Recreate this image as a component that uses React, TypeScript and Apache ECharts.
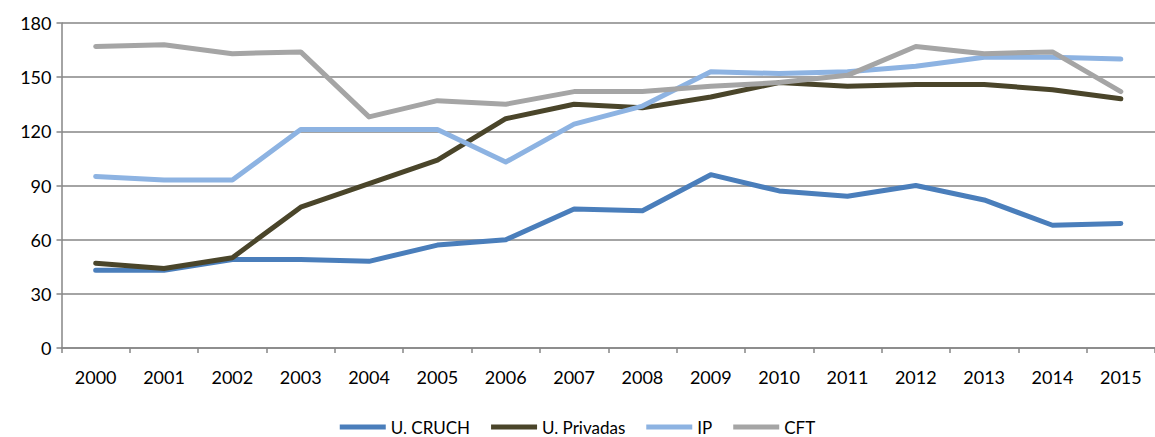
import React, { useEffect, useRef } from "react";
import * as echarts from "echarts";

const years = ["2000","2001","2002","2003","2004","2005","2006","2007","2008","2009","2010","2011","2012","2013","2014","2015"];
const cruch = [43, 43, 49, 49, 48, 57, 60, 77, 76, 96, 87, 84, 90, 82, 68, 69];
const privadas = [47, 44, 50, 78, 91, 104, 127, 135, 133, 139, 147, 145, 146, 146, 143, 138];
const ip = [95, 93, 93, 121, 121, 121, 103, 124, 134, 153, 152, 153, 156, 161, 161, 160];
const cft = [167, 168, 163, 164, 128, 137, 135, 142, 142, 145, 147, 151, 167, 163, 164, 142];

const seriesNames = ["U. CRUCH", "U. Privadas", "IP", "CFT"];
const colors = ["#4a7ebb", "#4a452a", "#8db3e2", "#a5a5a5"];

export default function App() {
  const ref = useRef<HTMLDivElement>(null);
  useEffect(() => {
    if (!ref.current) return;
    const chart = echarts.init(ref.current, null, { renderer: "svg" });
    const datas = [cruch, privadas, ip, cft];
    chart.setOption({
      animation: false,
      textStyle: { fontFamily: "Lato, 'Open Sans', sans-serif" },
      grid: { left: 61.5, right: -12, top: 23, bottom: 89 },
      legend: {
        top: 418,
        left: "center",
        padding: 0,
        itemWidth: 46,
        itemHeight: 5,
        itemGap: 21,
        icon: "rect",
        textStyle: { fontSize: 17, color: "#000", fontFamily: "Lato, sans-serif", lineHeight: 18 },
        data: seriesNames,
      },
      xAxis: {
        type: "category",
        data: years,
        boundaryGap: true,
        axisLine: { lineStyle: { color: "#868686", width: 1.5 } },
        axisTick: { show: true, length: 5, lineStyle: { color: "#868686", width: 1.5 } },
        axisLabel: { color: "#000", fontSize: 18, margin: 20 },
      },
      yAxis: {
        type: "value",
        min: 0,
        max: 180,
        interval: 30,
        axisLine: { show: true, lineStyle: { color: "#868686", width: 1.5 } },
        axisTick: { show: true, length: 5, lineStyle: { color: "#868686", width: 1.5 } },
        axisLabel: { color: "#000", fontSize: 18, margin: 10 },
        splitLine: { lineStyle: { color: "#868686", width: 1.5 } },
      },
      series: datas.map((d, i) => ({
        name: seriesNames[i],
        type: "line",
        data: d,
        symbol: "none",
        color: colors[i],
        lineStyle: { width: 5, color: colors[i], cap: "round", join: "round" },
      })),
    });
    return () => chart.dispose();
  }, []);
  return (
    <div
      ref={ref}
      style={{ position: "fixed", left: 0, top: 0, width: 1155, height: 437, background: "#fff" }}
    />
  );
}
